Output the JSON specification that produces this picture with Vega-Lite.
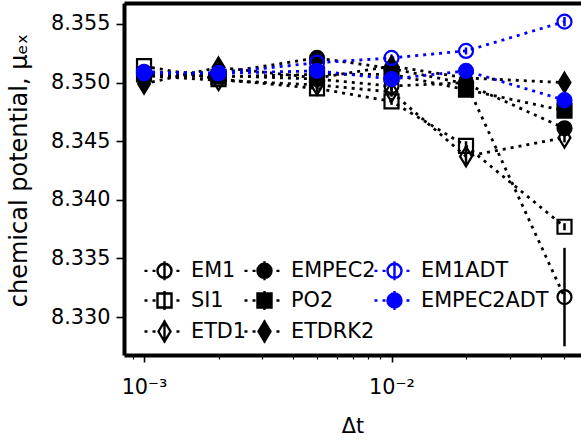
{
  "$schema": "https://vega.github.io/schema/vega-lite/v6.json",
  "width": 457,
  "height": 352,
  "autosize": {"type": "none"},
  "padding": {"left": 124, "top": 3, "right": 0, "bottom": 86},
  "background": "white",
  "config": {
    "view": {"stroke": null},
    "font": "DejaVu Sans",
    "axis": {"grid": false, "domain": false, "tickColor": "black", "labelColor": "black", "titleColor": "black", "labelFont": "DejaVu Sans", "titleFont": "DejaVu Sans", "labelFontSize": 20.8, "titleFontSize": 20.8, "titleFontWeight": "normal", "tickWidth": 1.6}
  },
  "datasets": {
    "main": [
      {"dt": 0.001, "series": "EM1", "mu": 8.3508, "err": 0.0002},
      {"dt": 0.002, "series": "EM1", "mu": 8.3506, "err": 0.0002},
      {"dt": 0.005, "series": "EM1", "mu": 8.3503, "err": 0.0003},
      {"dt": 0.01, "series": "EM1", "mu": 8.3497, "err": 0.0004},
      {"dt": 0.02, "series": "EM1", "mu": 8.3500, "err": 0.0004},
      {"dt": 0.05, "series": "EM1", "mu": 8.3317, "err": 0.0042},
      {"dt": 0.001, "series": "SI1", "mu": 8.3514, "err": 0.0002},
      {"dt": 0.002, "series": "SI1", "mu": 8.3503, "err": 0.0002},
      {"dt": 0.005, "series": "SI1", "mu": 8.3495, "err": 0.0003},
      {"dt": 0.01, "series": "SI1", "mu": 8.3484, "err": 0.0003},
      {"dt": 0.02, "series": "SI1", "mu": 8.3446, "err": 0.0004},
      {"dt": 0.05, "series": "SI1", "mu": 8.3377, "err": 0.0003},
      {"dt": 0.001, "series": "ETD1", "mu": 8.3506, "err": 0.0002},
      {"dt": 0.002, "series": "ETD1", "mu": 8.3502, "err": 0.0002},
      {"dt": 0.005, "series": "ETD1", "mu": 8.3498, "err": 0.0003},
      {"dt": 0.01, "series": "ETD1", "mu": 8.3492, "err": 0.0004},
      {"dt": 0.02, "series": "ETD1", "mu": 8.3437, "err": 0.0007},
      {"dt": 0.05, "series": "ETD1", "mu": 8.3453, "err": 0.0004},
      {"dt": 0.001, "series": "EMPEC2", "mu": 8.3509, "err": 0.0002},
      {"dt": 0.002, "series": "EMPEC2", "mu": 8.3508, "err": 0.0002},
      {"dt": 0.005, "series": "EMPEC2", "mu": 8.3521, "err": 0.0003},
      {"dt": 0.01, "series": "EMPEC2", "mu": 8.3512, "err": 0.0003},
      {"dt": 0.02, "series": "EMPEC2", "mu": 8.3499, "err": 0.0003},
      {"dt": 0.05, "series": "EMPEC2", "mu": 8.3461, "err": 0.0004},
      {"dt": 0.001, "series": "PO2", "mu": 8.3507, "err": 0.0002},
      {"dt": 0.002, "series": "PO2", "mu": 8.3505, "err": 0.0002},
      {"dt": 0.005, "series": "PO2", "mu": 8.3507, "err": 0.0003},
      {"dt": 0.01, "series": "PO2", "mu": 8.3507, "err": 0.0003},
      {"dt": 0.02, "series": "PO2", "mu": 8.3494, "err": 0.0003},
      {"dt": 0.05, "series": "PO2", "mu": 8.3476, "err": 0.0004},
      {"dt": 0.001, "series": "ETDRK2", "mu": 8.3499, "err": 0.0002},
      {"dt": 0.002, "series": "ETDRK2", "mu": 8.3513, "err": 0.0002},
      {"dt": 0.005, "series": "ETDRK2", "mu": 8.3504, "err": 0.0003},
      {"dt": 0.01, "series": "ETDRK2", "mu": 8.3514, "err": 0.0003},
      {"dt": 0.02, "series": "ETDRK2", "mu": 8.3504, "err": 0.0003},
      {"dt": 0.05, "series": "ETDRK2", "mu": 8.3500, "err": 0.0004},
      {"dt": 0.001, "series": "EM1ADT", "mu": 8.3509, "err": 0.0002},
      {"dt": 0.002, "series": "EM1ADT", "mu": 8.3508, "err": 0.0002},
      {"dt": 0.005, "series": "EM1ADT", "mu": 8.3517, "err": 0.0003},
      {"dt": 0.01, "series": "EM1ADT", "mu": 8.3521, "err": 0.0003},
      {"dt": 0.02, "series": "EM1ADT", "mu": 8.3527, "err": 0.0003},
      {"dt": 0.05, "series": "EM1ADT", "mu": 8.3552, "err": 0.0004},
      {"dt": 0.001, "series": "EMPEC2ADT", "mu": 8.3508, "err": 0.0002},
      {"dt": 0.002, "series": "EMPEC2ADT", "mu": 8.3508, "err": 0.0002},
      {"dt": 0.005, "series": "EMPEC2ADT", "mu": 8.3510, "err": 0.0003},
      {"dt": 0.01, "series": "EMPEC2ADT", "mu": 8.3503, "err": 0.0003},
      {"dt": 0.02, "series": "EMPEC2ADT", "mu": 8.3510, "err": 0.0003},
      {"dt": 0.05, "series": "EMPEC2ADT", "mu": 8.3485, "err": 0.0004}
    ]
  },
  "data": {"name": "main"},
  "resolve": {"axis": {"x": "independent"}},
  "layer": [
    {
      "mark": {"type": "line", "strokeDash": [3, 5], "strokeWidth": 2.8, "strokeCap": "butt"},
      "encoding": {
        "x": {"field": "dt", "type": "quantitative", "scale": {"type": "log", "domain": [0.00083, 0.0583], "nice": false, "zero": false},
          "axis": {"values": [0.001, 0.01], "labelExpr": "datum.value < 0.005 ? '10⁻³' : '10⁻²'", "tickSize": 7, "labelPadding": 15, "title": "Δt", "titlePadding": 20, "domain": true, "domainWidth": 4, "domainColor": "black", "labelFlush": false, "labelOverlap": false}},
        "y": {"field": "mu", "type": "quantitative", "title": "chemical potential, μₑₓ", "scale": {"domain": [8.32676, 8.35679], "nice": false, "zero": false},
          "axis": {"values": [8.33, 8.335, 8.34, 8.345, 8.35, 8.355], "format": ".3f", "tickSize": 8, "labelPadding": 6, "titlePadding": 19, "titleY": 167, "titleFontSize": 24, "domain": true, "domainWidth": 4, "domainColor": "black"}},
        "stroke": {"field": "series", "type": "nominal", "scale": {"domain": ["EM1", "SI1", "ETD1", "EMPEC2", "PO2", "ETDRK2", "EM1ADT", "EMPEC2ADT"], "range": ["black", "black", "black", "black", "black", "black", "#0000ff", "#0000ff"]}, "title": null},
        "detail": {"field": "series", "type": "nominal"}
      }
    },
    {
      "mark": {"type": "errorbar", "ticks": false, "thickness": 2.5},
      "encoding": {
        "x": {"field": "dt", "type": "quantitative", "axis": null},
        "y": {"field": "mu", "type": "quantitative", "title": "chemical potential, μₑₓ"},
        "yError": {"field": "err"},
        "color": {"field": "series", "type": "nominal", "scale": {"domain": ["EM1", "SI1", "ETD1", "EMPEC2", "PO2", "ETDRK2", "EM1ADT", "EMPEC2ADT"], "range": ["black", "black", "black", "black", "black", "black", "#0000ff", "#0000ff"]}, "legend": null}
      }
    },
    {
      "transform": [{"filter": {"field": "series", "oneOf": ["EM1", "EMPEC2"]}}],
      "mark": {"type": "point", "shape": "circle", "size": 196, "strokeWidth": 2.2, "opacity": 1},
      "encoding": {
        "x": {"field": "dt", "type": "quantitative", "axis": null},
        "y": {"field": "mu", "type": "quantitative", "title": "chemical potential, μₑₓ"},
        "stroke": {"field": "series", "type": "nominal", "title": null, "scale": {"domain": ["EM1", "SI1", "ETD1", "EMPEC2", "PO2", "ETDRK2", "EM1ADT", "EMPEC2ADT"], "range": ["black", "black", "black", "black", "black", "black", "#0000ff", "#0000ff"]}},
        "fill": {"field": "series", "type": "nominal", "title": null, "scale": {"domain": ["EM1", "SI1", "ETD1", "EMPEC2", "PO2", "ETDRK2", "EM1ADT", "EMPEC2ADT"], "range": ["transparent", "transparent", "transparent", "black", "black", "black", "transparent", "#0000ff"]}}
      }
    },
    {
      "transform": [{"filter": {"field": "series", "oneOf": ["SI1", "PO2"]}}],
      "mark": {"type": "point", "shape": "square", "size": 196, "strokeWidth": 2.2, "opacity": 1},
      "encoding": {
        "x": {"field": "dt", "type": "quantitative", "axis": null},
        "y": {"field": "mu", "type": "quantitative", "title": "chemical potential, μₑₓ"},
        "stroke": {"field": "series", "type": "nominal", "title": null, "scale": {"domain": ["EM1", "SI1", "ETD1", "EMPEC2", "PO2", "ETDRK2", "EM1ADT", "EMPEC2ADT"], "range": ["black", "black", "black", "black", "black", "black", "#0000ff", "#0000ff"]}},
        "fill": {"field": "series", "type": "nominal", "title": null, "scale": {"domain": ["EM1", "SI1", "ETD1", "EMPEC2", "PO2", "ETDRK2", "EM1ADT", "EMPEC2ADT"], "range": ["transparent", "transparent", "transparent", "black", "black", "black", "transparent", "#0000ff"]}}
      }
    },
    {
      "transform": [{"filter": {"field": "series", "oneOf": ["ETD1", "ETDRK2"]}}],
      "mark": {"type": "point", "shape": "M0,-1.41L0.85,0L0,1.41L-0.85,0Z", "size": 196, "strokeWidth": 2.2, "opacity": 1},
      "encoding": {
        "x": {"field": "dt", "type": "quantitative", "axis": null},
        "y": {"field": "mu", "type": "quantitative", "title": "chemical potential, μₑₓ"},
        "stroke": {"field": "series", "type": "nominal", "title": null, "scale": {"domain": ["EM1", "SI1", "ETD1", "EMPEC2", "PO2", "ETDRK2", "EM1ADT", "EMPEC2ADT"], "range": ["black", "black", "black", "black", "black", "black", "#0000ff", "#0000ff"]}},
        "fill": {"field": "series", "type": "nominal", "title": null, "scale": {"domain": ["EM1", "SI1", "ETD1", "EMPEC2", "PO2", "ETDRK2", "EM1ADT", "EMPEC2ADT"], "range": ["transparent", "transparent", "transparent", "black", "black", "black", "transparent", "#0000ff"]}}
      }
    },
    {
      "transform": [{"filter": {"field": "series", "oneOf": ["EM1ADT", "EMPEC2ADT"]}}],
      "mark": {"type": "point", "shape": "circle", "size": 196, "strokeWidth": 2.2, "opacity": 1},
      "encoding": {
        "x": {"field": "dt", "type": "quantitative", "axis": {"orient": "top", "ticks": false, "labels": false, "title": null, "domain": true, "domainWidth": 4, "domainColor": "black"}},
        "y": {"field": "mu", "type": "quantitative", "title": "chemical potential, μₑₓ"},
        "stroke": {"field": "series", "type": "nominal", "title": null, "scale": {"domain": ["EM1", "SI1", "ETD1", "EMPEC2", "PO2", "ETDRK2", "EM1ADT", "EMPEC2ADT"], "range": ["black", "black", "black", "black", "black", "black", "#0000ff", "#0000ff"]}},
        "fill": {"field": "series", "type": "nominal", "title": null, "scale": {"domain": ["EM1", "SI1", "ETD1", "EMPEC2", "PO2", "ETDRK2", "EM1ADT", "EMPEC2ADT"], "range": ["transparent", "transparent", "transparent", "black", "black", "black", "transparent", "#0000ff"]}}
      }
    },
    {
      "data": {"values": []},
      "mark": {"type": "point", "opacity": 1},
      "encoding": {
        "x": {"field": "dt", "type": "quantitative", "axis": {"values": [0.0009, 0.002, 0.003, 0.004, 0.005, 0.006, 0.007, 0.008, 0.009, 0.02, 0.03, 0.04, 0.05], "labels": false, "tickSize": 4, "tickWidth": 1.2, "title": null, "domain": false}},
        "y": {"field": "mu", "type": "quantitative", "title": "chemical potential, μₑₓ"},
        "stroke": {"field": "series", "type": "nominal", "title": null, "scale": {"domain": ["EM1", "SI1", "ETD1", "EMPEC2", "PO2", "ETDRK2", "EM1ADT", "EMPEC2ADT"], "range": ["black", "black", "black", "black", "black", "black", "#0000ff", "#0000ff"]},
          "legend": {"orient": "none", "legendX": 27.5, "legendY": 254.5, "columns": 3, "columnPadding": -7, "rowPadding": 0, "gridAlign": "each", "symbolSize": 529, "symbolStrokeWidth": 2.4, "symbolOpacity": 1, "labelFontSize": 20.8, "labelFont": "DejaVu Sans", "labelColor": "black", "labelOffset": 13.5, "padding": 0, "labelLimit": 300, "title": null}},
        "fill": {"field": "series", "type": "nominal", "title": null, "scale": {"domain": ["EM1", "SI1", "ETD1", "EMPEC2", "PO2", "ETDRK2", "EM1ADT", "EMPEC2ADT"], "range": ["transparent", "transparent", "transparent", "black", "black", "black", "transparent", "#0000ff"]},
          "legend": {"orient": "none", "legendX": 27.5, "legendY": 254.5, "columns": 3, "columnPadding": -7, "rowPadding": 0, "gridAlign": "each", "symbolSize": 529, "symbolStrokeWidth": 2.4, "symbolOpacity": 1, "labelFontSize": 20.8, "labelFont": "DejaVu Sans", "labelColor": "black", "labelOffset": 13.5, "padding": 0, "labelLimit": 300, "title": null}},
        "shape": {"field": "series", "type": "nominal", "title": null, "scale": {"domain": ["EM1", "SI1", "ETD1", "EMPEC2", "PO2", "ETDRK2", "EM1ADT", "EMPEC2ADT"], "range": [
          "M-1.74,0H-1.48M-1.04,0H-0.78M1.04,0H1.3M0,-0.83V0.83M0.61,0A0.61,0.61,0,1,1,-0.61,0A0.61,0.61,0,1,1,0.61,0Z",
          "M-1.74,0H-1.48M-1.04,0H-0.78M1.04,0H1.3M0,-0.83V0.83M-0.61,-0.61H0.61V0.61H-0.61Z",
          "M-1.74,0H-1.48M-1.04,0H-0.78M1.04,0H1.3M0,-0.96V0.96M0,-0.87L0.52,0L0,0.87L-0.52,0Z",
          "M-1.74,0H-1.48M-1.04,0H-0.78M1.04,0H1.3M0,-0.83V0.83M0.61,0A0.61,0.61,0,1,1,-0.61,0A0.61,0.61,0,1,1,0.61,0Z",
          "M-1.74,0H-1.48M-1.04,0H-0.78M1.04,0H1.3M0,-0.83V0.83M-0.61,-0.61H0.61V0.61H-0.61Z",
          "M-1.74,0H-1.48M-1.04,0H-0.78M1.04,0H1.3M0,-0.96V0.96M0,-0.87L0.52,0L0,0.87L-0.52,0Z",
          "M-1.74,0H-1.48M-1.04,0H-0.78M1.04,0H1.3M0,-0.83V0.83M0.61,0A0.61,0.61,0,1,1,-0.61,0A0.61,0.61,0,1,1,0.61,0Z",
          "M-1.74,0H-1.48M-1.04,0H-0.78M1.04,0H1.3M0,-0.83V0.83M0.61,0A0.61,0.61,0,1,1,-0.61,0A0.61,0.61,0,1,1,0.61,0Z"
        ]},
          "legend": {"orient": "none", "legendX": 27.5, "legendY": 254.5, "columns": 3, "columnPadding": -7, "rowPadding": 0, "gridAlign": "each", "symbolSize": 529, "symbolStrokeWidth": 2.4, "symbolOpacity": 1, "labelFontSize": 20.8, "labelFont": "DejaVu Sans", "labelColor": "black", "labelOffset": 13.5, "padding": 0, "labelLimit": 300, "title": null}}
      }
    }
  ]
}
